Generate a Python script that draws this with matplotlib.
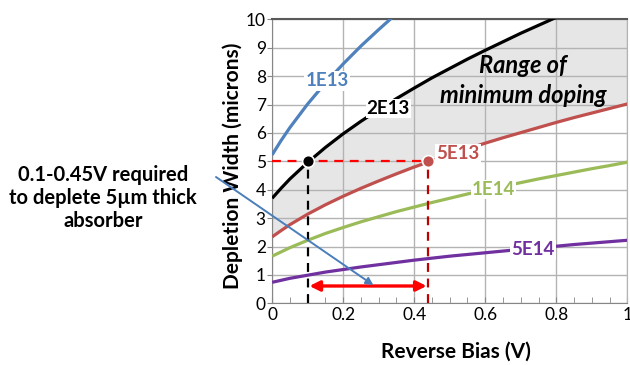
import matplotlib
matplotlib.use("Agg")
import matplotlib.pyplot as plt
from matplotlib.ticker import MultipleLocator

plt.rcParams['font.family'] = ['Lato', 'DejaVu Sans']

# Reverse bias (V)
bias = [0, 0.025, 0.05, 0.1, 0.15, 0.2, 0.25, 0.3, 0.35, 0.4, 0.45, 0.5,
        0.55, 0.6, 0.65, 0.7, 0.75, 0.8, 0.85, 0.9, 0.95, 1.0]

# Depletion width (microns) for each doping level
w_1e13 = [5.23, 5.73, 6.19, 7.02, 7.76, 8.43, 9.06, 9.64, 10.20]
w_2e13 = [3.70, 4.05, 4.38, 4.96, 5.49, 5.97, 6.41, 6.82, 7.21, 7.58, 7.94,
          8.27, 8.60, 8.91, 9.21, 9.51, 9.79, 10.07]
w_5e13 = [2.34, 2.56, 2.77, 3.14, 3.47, 3.77, 4.05, 4.31, 4.56, 4.80, 5.02,
          5.23, 5.44, 5.64, 5.83, 6.01, 6.19, 6.37, 6.54, 6.70, 6.86, 7.02]
w_1e14 = [1.66, 1.81, 1.96, 2.22, 2.46, 2.67, 2.87, 3.05, 3.23, 3.39, 3.55,
          3.70, 3.85, 3.99, 4.12, 4.25, 4.38, 4.50, 4.62, 4.74, 4.85, 4.97]
w_5e14 = [0.74, 0.81, 0.88, 0.99, 1.10, 1.19, 1.28, 1.36, 1.44, 1.52, 1.59,
          1.66, 1.72, 1.78, 1.84, 1.90, 1.96, 2.01, 2.07, 2.12, 2.17, 2.22]

labels = ["1E13", "2E13", "5E13", "1E14", "5E14"]
colors = ["#4f81bd", "#000000", "#c0504d", "#9bbb59", "#7030a0"]
label_pos = [(0.155, 7.83), (0.327, 6.87), (0.524, 5.28), (0.623, 4.01), (0.735, 1.88)]

xtick_vals = [0, 0.2, 0.4, 0.6, 0.8, 1.0]
xtick_labels = ["0", "0.2", "0.4", "0.6", "0.8", "1"]

target_w = 5.0
v_low = 0.10
v_high = 0.44
arrow_y = 0.61

fig = plt.figure(figsize=(6.3, 3.65), dpi=100)
ax = fig.add_axes([0.432, 0.169, 0.5637, 0.778])
ax.set_xlim(0, 1)
ax.set_ylim(0, 10)

# shaded region between 5E13 and 2E13 (capped at top)
upper = [min(v, 10) for v in w_2e13] + [10] * (len(bias) - len(w_2e13))
ax.fill_between(bias, w_5e13, upper, color="#e6e6e6", zorder=0.3, lw=0)

series = [w_1e13, w_2e13, w_5e13, w_1e14, w_5e14]
for ys, c in zip(series, colors):
    ax.plot(bias[:len(ys)], ys, color=c, lw=2.3, zorder=3, solid_capstyle='butt')

for lab, c, (lx, ly) in zip(labels, colors, label_pos):
    ax.text(lx, ly, lab, color=c, fontsize=13.5, fontweight='bold', ha='center', va='center',
            zorder=4, bbox=dict(boxstyle='square,pad=0.06', fc='white', ec='none'))

# dashed guide lines
ax.plot([0, v_high], [target_w, target_w], color="#ff0000", lw=1.6, ls=(0, (4, 3)), zorder=4)
ax.plot([v_low, v_low], [0, target_w], color="#000000", lw=1.6, ls=(0, (4, 3)), zorder=4)
ax.plot([v_high, v_high], [0, target_w], color="#c00000", lw=1.6, ls=(0, (4, 3)), zorder=4)
ax.plot([v_low], [target_w], 'o', color="#000000", ms=8.5, mec='white', mew=1.2, zorder=5)
ax.plot([v_high], [target_w], 'o', color="#c0504d", ms=8.5, mec='white', mew=1.2, zorder=5)

# double arrow
ax.annotate("", xy=(v_low + 0.005, arrow_y), xytext=(v_high - 0.005, arrow_y),
            arrowprops=dict(arrowstyle='<|-|>', color='#ff0000', lw=2.4,
                            mutation_scale=15, shrinkA=0, shrinkB=0), zorder=5)

ax.text(0.707, 8.39, "Range of", fontsize=17, fontweight='bold', fontstyle='italic',
        ha='center', va='center', zorder=4)
ax.text(0.707, 7.33, "minimum doping", fontsize=17, fontweight='bold', fontstyle='italic',
        ha='center', va='center', zorder=4)

# axes styling
ax.set_xticks(xtick_vals)
ax.set_xticklabels(xtick_labels)
ax.xaxis.set_minor_locator(MultipleLocator(0.05))
ax.yaxis.set_major_locator(MultipleLocator(1))
ax.grid(True, which='major', color="#b3b3b3", lw=1)
ax.set_axisbelow(True)
ax.tick_params(axis='x', which='both', direction='in', length=4, color="#868686",
               labelsize=12.5, pad=2.5)
ax.tick_params(axis='y', which='major', direction='out', length=3.5, color="#868686",
               labelsize=12.5, pad=1)
for s in ['left', 'bottom']:
    ax.spines[s].set_color("#868686")
ax.spines['top'].set_color("#595959")
ax.spines['top'].set_linewidth(1.5)
ax.spines['right'].set_color("#b3b3b3")

ax.set_xlabel("Reverse Bias (V)", fontsize=15, fontweight='bold')
ax.set_ylabel("Depletion Width (microns)", fontsize=15, fontweight='bold')
ax.xaxis.set_label_coords(456 / 630, 1 - 352 / 365, transform=fig.transFigure)
ax.yaxis.set_label_coords(233 / 630, 1 - 166 / 365, transform=fig.transFigure)
ax.xaxis.label.set_va('center')
ax.yaxis.label.set_va('center')

# side annotation
fig.text(103 / 630, 1 - 198 / 365, "0.1-0.45V required\nto deplete 5\u00b5m thick\nabsorber",
         fontsize=14.5, fontweight='bold', ha='center', va='center', linespacing=1.2)
ax.annotate("", xy=(0.285, 0.64), xycoords='data',
            xytext=(216 / 630, 1 - 177 / 365), textcoords='figure fraction',
            arrowprops=dict(arrowstyle='-|>', color='#4a7ebb', lw=1.4, mutation_scale=11,
                            shrinkA=0, shrinkB=0), annotation_clip=False, zorder=6)

fig.savefig("out.png", dpi=100)
